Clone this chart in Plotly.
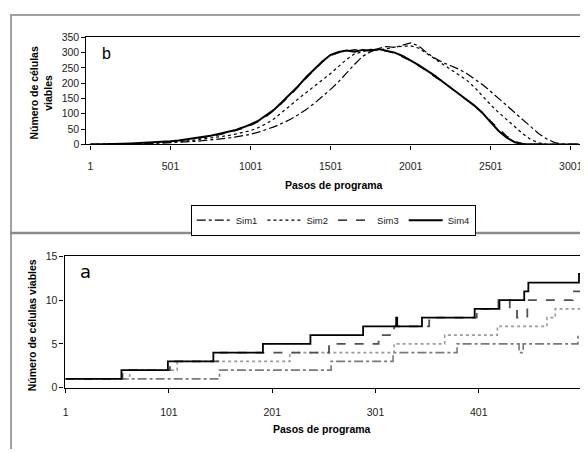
import plotly.graph_objects as go

# The page body has an 8px margin, so the figure is drawn 8px in from the
# top-left corner of the window; positions below are given in window pixels.
OFF = 8
W, H = 588 - OFF, 453 - OFF


def px(x):
    return (x - OFF) / W


def py(y):
    return 1 - (y - OFF) / H


# ---------------- Panel b (top): viable cells vs program steps ----------------
steps_b = list(range(1, 3052, 50))
sim1_b = [0, 0, 0, 0, 1, 1, 2, 2, 3, 4,
          5, 6, 8, 10, 12, 14, 17, 20, 24, 28,
          33, 40, 48, 58, 70, 82, 98, 115, 135, 156,
          180, 205, 235, 262, 288, 303, 314, 320, 317, 324,
          332, 322, 300, 282, 268, 257, 246, 232, 214, 195,
          173, 150, 126, 101, 78, 55, 35, 18, 6, 1,
          0, 0]
sim2_b = [0, 0, 0, 1, 1, 2, 3, 4, 5, 6,
          7, 9, 11, 14, 17, 20, 24, 28, 33, 38,
          45, 55, 68, 85, 105, 128, 150, 170, 190, 210,
          232, 255, 278, 296, 304, 310, 308, 314, 318, 321,
          322, 315, 298, 280, 263, 246, 229, 210, 186, 157,
          129, 104, 80, 56, 35, 16, 5, 0, 0, 0,
          0, 0]
sim3_b = [0, 0, 0, 1, 2, 2, 3, 4, 6, 7,
          9, 12, 15, 18, 22, 26, 31, 37, 44, 52,
          62, 75, 92, 112, 136, 162, 190, 218, 245, 270,
          290, 300, 305, 310, 304, 311, 308, 305, 298, 286,
          273, 257, 240, 222, 204, 185, 165, 146, 127, 104,
          76, 50, 27, 10, 2, 0, 0, 0, 0, 0,
          0, 0]
sim4_b = [0, 0, 1, 1, 2, 3, 4, 5, 6, 8,
          10, 13, 17, 19, 24, 28, 34, 40, 46, 55,
          65, 78, 96, 115, 140, 165, 192, 221, 247, 272,
          293, 302, 307, 303, 309, 306, 312, 307, 300, 289,
          275, 259, 242, 225, 205, 186, 166, 146, 126, 102,
          72, 44, 22, 7, 1, 0, 0, 0, 0, 0,
          0, 0]
ticks_b = [1, 501, 1001, 1501, 2001, 2501, 3001]
yticks_b = [0, 50, 100, 150, 200, 250, 300, 350]

# ---------------- Panel a (bottom): step functions (change points) ----------------
sim1_a_x = [1, 150, 258, 318, 380, 440, 444, 497, 500]
sim1_a_y = [1, 2, 3, 4, 5, 4, 5, 6, 6]
sim2_a_x = [1, 63, 109, 218, 319, 368, 419, 467, 475, 500]
sim2_a_y = [1, 2, 3, 4, 5, 6, 7, 8, 9, 9]
sim3_a_x = [1, 56, 102, 151, 256, 304, 319, 353, 399, 420, 431, 438, 448, 492, 500]
sim3_a_y = [1, 2, 3, 4, 5, 6, 7, 8, 9, 10, 9, 8, 10, 11, 11]
sim4_a_x = [1, 55, 100, 144, 192, 238, 289, 321, 322, 346, 397, 421, 445, 449, 498, 500]
sim4_a_y = [1, 2, 3, 4, 5, 6, 7, 8, 7, 8, 9, 10, 11, 12, 13, 13]
ticks_a = [1, 101, 201, 301, 401]
yticks_a = [0, 5, 10, 15]

names = ["Sim1", "Sim2", "Sim3", "Sim4"]
dashes = ["dashdot", "dot", "dash", "solid"]
widths_b = [1.2, 1.2, 1.2, 2.0]
colors_a = ["#7a7a7a", "#9a9a9a", "#505050", "#000000"]
widths_a = [1.6, 1.6, 1.8, 1.8]

FONT = "Liberation Sans, Arial, sans-serif"

fig = go.Figure()
for n, d, w, ys in zip(names, dashes, widths_b, [sim1_b, sim2_b, sim3_b, sim4_b]):
    fig.add_trace(go.Scatter(x=steps_b, y=ys, mode="lines", name=n,
                             line=dict(color="#000000", dash=d, width=w),
                             xaxis="x", yaxis="y", showlegend=True))

for n, d, w, c, xs, ys in zip(names, dashes, widths_a, colors_a,
                              [sim1_a_x, sim2_a_x, sim3_a_x, sim4_a_x],
                              [sim1_a_y, sim2_a_y, sim3_a_y, sim4_a_y]):
    fig.add_trace(go.Scatter(x=xs, y=ys, mode="lines", name=n,
                             line=dict(color=c, dash=d, width=w, shape="hv"),
                             xaxis="x2", yaxis="y2", showlegend=False))

axis_common = dict(showline=True, linecolor="#000000", linewidth=1.3, mirror=True,
                   ticks="outside", ticklen=4, tickcolor="#000000", showgrid=False,
                   zeroline=False, tickfont=dict(family=FONT, size=10.5, color="#222222"))

fig.update_layout(
    width=W, height=H,
    margin=dict(l=0, r=0, t=0, b=0),
    paper_bgcolor="white", plot_bgcolor="white",
    font=dict(family=FONT, color="#000000"),
    xaxis=dict(domain=[px(85), px(583)], range=[-24, 3065], tickvals=ticks_b,
               anchor="y", ticklabelstandoff=8, **axis_common),
    yaxis=dict(domain=[py(142), py(32)], range=[0, 350], tickvals=yticks_b,
               anchor="x", **axis_common),
    xaxis2=dict(domain=[px(63), px(583)], range=[0, 500], tickvals=ticks_a,
                anchor="y2", ticklabelstandoff=11, **axis_common),
    yaxis2=dict(domain=[py(392), py(257)], range=[0, 15], tickvals=yticks_a,
                anchor="x2", **axis_common),
    legend=dict(orientation="h", x=px(190), y=py(204), xanchor="left", yanchor="top",
                bordercolor="#000000", borderwidth=1, bgcolor="white",
                font=dict(family=FONT, size=9.5, color="#222222"), itemwidth=34,
                tracegroupgap=0),
    showlegend=True,
)

ann = [
    dict(text="b", x=px(105), y=py(49), font=dict(size=16, family=FONT)),
    dict(text="a", x=px(84), y=py(273), font=dict(size=18, family="DejaVu Sans")),
    dict(text="<b>Pasos de programa</b>", x=px(334), y=py(184), font=dict(size=10.5, family=FONT)),
    dict(text="<b>Pasos de programa</b>", x=px(322), y=py(435), font=dict(size=10.5, family=FONT)),
    dict(text="<b>Número de células<br>viables</b>", x=px(39), y=py(89), textangle=-90,
         font=dict(size=10.5, family=FONT)),
    dict(text="<b>Número de células viables</b>", x=px(31), y=py(328), textangle=-90,
         font=dict(size=10.5, family=FONT)),
]
for a in ann:
    fig.add_annotation(xref="paper", yref="paper", showarrow=False,
                       xanchor="center", yanchor="middle", **a)

shapes = [
    dict(type="line", x0=px(8), x1=px(590), y0=py(9), y1=py(9), line=dict(color="#a0a0a0", width=2)),
    dict(type="line", x0=px(9), x1=px(9), y0=py(9), y1=py(455), line=dict(color="#a0a0a0", width=2)),
    dict(type="line", x0=px(8), x1=px(590), y0=py(233), y1=py(233), line=dict(color="#8a8a8a", width=2.5)),
]
for s in shapes:
    fig.add_shape(xref="paper", yref="paper", layer="above", **s)

fig.write_html("out.html")
